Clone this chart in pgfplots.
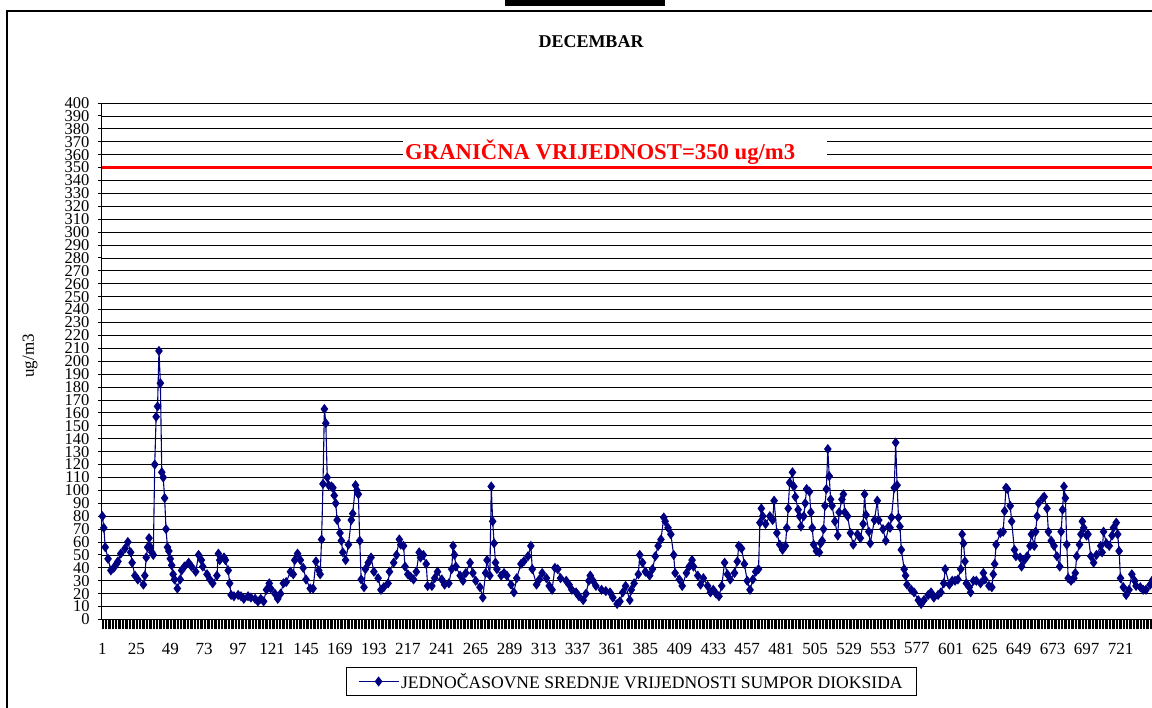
\documentclass[border=0pt]{standalone}
\usepackage{pgfplots}
\pgfplotsset{compat=1.18}
\usepackage{fontspec}
\setmainfont{Liberation Serif}
\definecolor{navyblue}{RGB}{0,0,128}
\begin{document}
\begin{tikzpicture}[x=1pt,y=1pt]
\useasboundingbox (0,0) rectangle (1152,708);
\fill[white] (0,0) rectangle (1152,708);
\begin{axis}[
  at={(101.7pt,88.5pt)}, anchor=south west,
  scale only axis, width=1052pt, height=516.5pt,
  xmin=0.5, xmax=744.5, ymin=0, ymax=400,
  axis x line*=bottom, axis y line*=left,
  axis line style={black, line width=1.2pt, -},
  ytick={0,10,...,400},
  ymajorgrids, grid style={black, line width=0.8pt},
  xtick={1,25,...,721},
  minor xtick={1,...,744},
  tick align=outside,
  major tick length=4pt, minor tick length=10pt,
  every tick/.style={black, line width=0.9pt},
  /pgf/number format/assume math mode=true,
  yticklabel style={font=\fontsize{16.5}{16.5}\selectfont, inner sep=0pt, anchor=east, xshift=-8pt},
  xticklabel style={font=\fontsize{17}{17}\selectfont, inner sep=0pt, anchor=center, yshift=-25pt},
  legend style={at={(0.5035,-0.12)}, anchor=center, draw=black, line width=0.8pt, fill=white,
    font=\fontsize{17.6}{17.6}\selectfont, inner xsep=12pt, inner ysep=3.5pt},
  legend image code/.code={\draw[mark repeat=2,mark phase=2,#1] plot coordinates {(0pt,0pt) (20pt,0pt) (40pt,0pt)};},
]
\addplot[red, line width=3.5pt, forget plot] coordinates {(0.5,350) (744.5,350)};
\addplot[navyblue, line width=1.1pt, mark=diamond*, mark size=4.2pt, mark options={solid, fill=navyblue}] coordinates {
(1,80) (2,71) (3,56) (5,47) (7,38) (9,40) (11,43) (12,45) (14,51) (17,55) (19,60) (21,52) (22,44) (24,34)
(26,31) (30,27) (31,34) (32,48) (33,56) (34,63) (35,56) (36,52) (37,50) (38,120) (39,157) (40,165) (41,208)
(42,183) (43,114) (44,110) (45,94) (46,70) (47,56) (48,53) (49,47) (50,42) (51,35) (52,31) (54,24) (56,31)
(57,38) (59,41) (62,44) (64,41) (67,37) (69,50) (71,46) (72,41) (75,35) (77,31) (79,28) (82,34) (83,51)
(84,46) (87,48) (88,46) (90,38) (91,28) (92,19) (94,18) (97,19) (99,18) (101,16) (104,18) (106,17) (109,16)
(111,14) (113,16) (115,14) (117,23) (119,28) (120,24) (123,20) (125,16) (127,20) (129,28) (131,29) (134,37)
(136,35) (137,46) (139,51) (141,46) (143,40) (145,31) (148,24) (150,24) (152,45) (154,38) (155,35) (156,62)
(157,105) (158,163) (159,152) (160,110) (161,104) (163,103) (164,102) (165,96) (166,90) (167,77) (169,67)
(170,61) (171,52) (173,46) (175,58) (177,77) (178,82) (180,104) (181,100) (182,97) (183,61) (184,31)
(186,25) (187,39) (189,44) (191,48) (193,37) (196,32) (198,23) (200,25) (203,28) (204,37) (207,44) (209,50)
(211,62) (212,58) (214,57) (215,41) (217,35) (219,33) (221,31) (223,37) (225,52) (226,48) (228,50) (230,43)
(231,26) (234,26) (236,32) (238,37) (241,31) (243,27) (246,28) (248,39) (249,57) (250,50) (251,41) (254,34)
(256,30) (258,36) (261,44) (263,36) (265,30) (268,25) (270,17) (272,36) (273,46) (275,34) (276,103) (277,76)
(278,59) (279,44) (280,39) (283,34) (285,36) (287,34) (290,27) (292,21) (294,32) (297,43) (299,45) (302,49)
(304,57) (305,39) (308,27) (310,31) (312,36) (315,32) (317,26) (319,23) (321,40) (323,39) (325,32) (329,30)
(331,27) (333,23) (336,21) (338,18) (341,15) (343,20) (345,30) (346,34) (348,30) (350,26) (354,23) (357,22)
(360,21) (362,17) (365,12) (367,14)
(369,21) (371,26) (374,15) (375,23) (377,28) (380,35) (381,50) (383,44) (385,37) (388,34) (390,39) (392,49)
(394,57) (396,62) (398,79) (399,76) (401,71) (403,66) (405,50) (406,36) (409,31) (411,26) (414,36) (416,41)
(418,46) (419,41) (422,34) (424,27) (426,32) (429,26) (431,21) (433,23) (435,20) (437,18) (439,26) (441,44)
(443,35) (445,31) (448,36) (450,45) (451,57) (453,55) (455,43) (457,30) (459,23) (461,31) (463,37) (465,39)
(466,75) (467,86) (468,80) (470,74) (473,80) (475,77) (476,92) (478,67) (480,58) (482,54) (484,57) (485,71)
(486,86) (487,106) (489,114) (490,103) (491,95) (493,85) (494,80) (495,72) (497,80) (498,90) (499,101)
(501,99) (502,83) (503,71) (504,58) (506,53) (508,52) (509,59) (510,61) (511,70) (512,88) (513,101) (514,132)
(515,111) (516,93) (517,88) (519,76) (521,65) (522,83) (524,93) (525,97) (526,83) (528,80) (530,67) (532,58)
(535,66) (537,63) (539,74) (540,97) (541,81) (543,68) (544,59) (547,77) (549,92) (550,77) (553,70) (555,61)
(557,72)
(558,71) (559,79) (561,102) (562,137) (563,104) (564,79) (565,72) (566,54) (568,39) (569,34) (570,27) (573,23)
(575,21) (578,15) (580,12) (582,15) (585,19) (587,21) (589,17) (592,19) (594,21) (596,28) (597,39) (600,27)
(602,30) (604,30) (606,31) (608,39) (609,66) (610,59) (611,45) (612,28) (614,25) (615,21) (617,30) (619,30)
(622,28) (624,36) (625,31) (628,26) (630,25) (631,35) (632,43) (633,58) (636,67) (638,68) (639,84) (640,102)
(641,101) (643,88) (644,76) (646,54) (647,49) (650,48) (651,41) (653,46) (655,49) (657,57) (658,66) (660,57)
(661,68) (662,80) (663,90) (666,94) (667,95) (669,86) (670,68) (672,61) (674,57) (676,49) (678,41) (679,68)
(680,85) (681,103) (682,94) (683,58) (684,32) (686,30) (688,32) (689,36) (690,49) (692,58) (693,66) (694,76)
(695,71) (697,65) (698,66) (700,49) (702,44) (704,50) (707,57) (708,52) (709,68) (711,59) (713,57) (715,65)
(716,71) (718,75) (719,66) (720,53) (721,32) (723,25) (725,19) (727,23) (729,35) (731,30) (732,26) (735,25)
(737,23) (739,23) (742,27) (744,31)
};
\addlegendentry{JEDNOČASOVNE SREDNJE VRIJEDNOSTI SUMPOR DIOKSIDA}
\end{axis}
% limit-value label box
\fill[white] (403,546) rectangle (827,572);
\node[anchor=west, inner sep=0pt, text=red, font=\fontsize{22.7}{22.7}\selectfont\bfseries] at (405,555.5) {GRANIČNA VRIJEDNOST=350 ug/m3};
% title and y label
\node[font=\fontsize{18}{18}\selectfont\bfseries] at (591,666) {DECEMBAR};
\node[rotate=90, font=\fontsize{17}{17}\selectfont] at (30,352) {ug/m3};
% outer frame
\draw[line width=2.5pt] (7,0) -- (7,697) -- (1152,697);
\fill[black] (505,702) rectangle (665,708);
\end{tikzpicture}
\end{document}
